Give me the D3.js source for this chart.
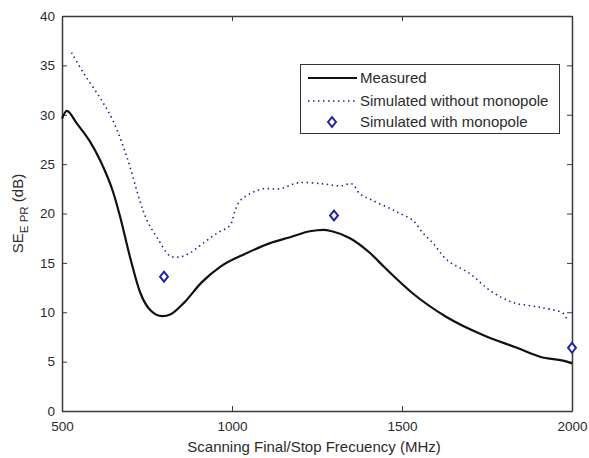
<!DOCTYPE html>
<html>
<head>
<meta charset="utf-8">
<script src="https://cdn.jsdelivr.net/npm/d3@7"></script>
<style>
  html, body { margin: 0; padding: 0; background: #fff; }
  svg { display: block; font-family: "Liberation Sans", Arial, sans-serif; }
</style>
</head>
<body>
<svg id="chart" width="589" height="458"></svg>
<script>
// Measured shielding effectiveness (dB) vs. scanning stop frequency (MHz)
const measuredFreq = [500, 514, 544, 582, 612, 650, 670, 700, 730, 760, 795, 820, 860, 910, 965, 1044, 1112, 1171, 1229, 1270, 1294, 1347, 1406, 1450, 1532, 1632, 1738, 1838, 1906, 1994, 2000];
const measuredSE   = [29.6, 30.4, 29.1, 27.3, 25.4, 22.2, 19.8, 15.6, 12.0, 10.2, 9.6, 9.8, 11.0, 13.0, 14.6, 16.0, 17.0, 17.6, 18.2, 18.35, 18.2, 17.5, 16.0, 14.5, 11.9, 9.5, 7.7, 6.4, 5.5, 4.9, 4.8];

// Simulation without monopole
const simFreq = [528, 562, 612, 650, 691, 729, 750, 779, 818, 847, 876, 915, 956, 994, 1009, 1024, 1053, 1091, 1141, 1194, 1268, 1318, 1353, 1376, 1415, 1465, 1494, 1532, 1562, 1591, 1632, 1700, 1759, 1826, 1906, 1974, 1985];
const simSE   = [36.3, 34.3, 31.7, 29.4, 25.7, 21.3, 19.3, 17.6, 15.7, 15.6, 16.0, 17.0, 18.0, 18.8, 20.3, 21.3, 22.0, 22.5, 22.5, 23.1, 23.0, 22.8, 23.0, 22.0, 21.3, 20.5, 20.0, 19.3, 18.0, 17.0, 15.3, 13.9, 12.2, 11.0, 10.5, 9.9, 9.3];

// Simulation with monopole (discrete points)
const monoFreq = [800, 1300, 2000];
const monoSE   = [13.6, 19.8, 6.4];

const xTicks = [500, 1000, 1500, 2000];
const yTicks = [0, 5, 10, 15, 20, 25, 30, 35, 40];
const legendLabels = ["Measured", "Simulated without monopole", "Simulated with monopole"];

const svg = d3.select("#chart");
const L = 62, R = 572, T = 16, B = 411;

const x = d3.scaleLinear().domain([500, 2000]).range([L, R]);
const y = d3.scaleLinear().domain([0, 40]).range([B, T]);

const axisColor = "#3a3a3a";
const textColor = "#2b2b2b";
const blue = "#23239a";

// Axes with inward ticks on all four sides
function styleAxis(g) {
  g.selectAll("path.domain").attr("stroke", axisColor).attr("stroke-width", 1.5);
  g.selectAll(".tick line").attr("stroke", axisColor).attr("stroke-width", 1);
  g.selectAll(".tick text").attr("fill", textColor).attr("font-size", 13.5)
    .attr("font-family", "'Liberation Sans', Arial, sans-serif");
}

svg.append("g").attr("transform", `translate(0,${B})`)
  .call(d3.axisBottom(x).tickValues(xTicks).tickFormat(d3.format("d")).tickSizeInner(-5).tickSizeOuter(0).tickPadding(10))
  .call(styleAxis);
svg.append("g").attr("transform", `translate(0,${T})`)
  .call(d3.axisTop(x).tickValues(xTicks).tickFormat("").tickSizeInner(-5).tickSizeOuter(0))
  .call(styleAxis);
svg.append("g").attr("transform", `translate(${L},0)`)
  .call(d3.axisLeft(y).tickValues(yTicks).tickFormat(d3.format("d")).tickSizeInner(-5).tickSizeOuter(0).tickPadding(7))
  .call(styleAxis);
svg.append("g").attr("transform", `translate(${R},0)`)
  .call(d3.axisRight(y).tickValues(yTicks).tickFormat("").tickSizeInner(-5).tickSizeOuter(0))
  .call(styleAxis);

// Series
const measured = measuredFreq.map((f, i) => [f, measuredSE[i]]);
const simulated = simFreq.map((f, i) => [f, simSE[i]]);
const smooth = d3.line().x(d => x(d[0])).y(d => y(d[1])).curve(d3.curveMonotoneX);
const dotted = d3.line().x(d => x(d[0])).y(d => y(d[1])).curve(d3.curveCatmullRom.alpha(0.5));

svg.append("path").datum(simulated).attr("d", dotted)
  .attr("fill", "none").attr("stroke", blue).attr("stroke-width", 1.6)
  .attr("stroke-dasharray", "1.5,3.5");

svg.append("path").datum(measured).attr("d", smooth)
  .attr("fill", "none").attr("stroke", "#111").attr("stroke-width", 2.2);

// Hollow diamond marker
const diamond = {
  draw(ctx, size) {
    const h = Math.sqrt(size) * 0.62, w = h * 0.8;
    ctx.moveTo(0, -h); ctx.lineTo(w, 0); ctx.lineTo(0, h); ctx.lineTo(-w, 0); ctx.closePath();
  }
};
const diamondPath = d3.symbol().type(diamond).size(64)();

svg.append("g").selectAll("path").data(monoFreq.map((f, i) => [f, monoSE[i]])).join("path")
  .attr("d", diamondPath)
  .attr("transform", d => `translate(${x(d[0])},${y(d[1])})`)
  .attr("fill", "#fff").attr("stroke", blue).attr("stroke-width", 2);

// Legend
const lg = svg.append("g");
lg.append("rect").attr("x", 300.5).attr("y", 64.5).attr("width", 259).attr("height", 69)
  .attr("fill", "#fff").attr("stroke", "#333").attr("stroke-width", 1);
const rowY = [78, 101, 122];
lg.append("line").attr("x1", 308).attr("x2", 357).attr("y1", rowY[0]).attr("y2", rowY[0])
  .attr("stroke", "#111").attr("stroke-width", 2.2);
lg.append("line").attr("x1", 308).attr("x2", 357).attr("y1", rowY[1]).attr("y2", rowY[1])
  .attr("stroke", blue).attr("stroke-width", 1.6).attr("stroke-dasharray", "1.5,3.5");
lg.append("path").attr("d", diamondPath).attr("transform", `translate(332,${rowY[2]})`)
  .attr("fill", "#fff").attr("stroke", blue).attr("stroke-width", 2);
lg.selectAll("text").data(legendLabels).join("text")
  .attr("x", 360).attr("y", (d, i) => rowY[i]).attr("dy", "0.36em")
  .attr("font-size", 15).attr("fill", textColor).text(d => d);

// Axis titles
svg.append("text").attr("x", 314).attr("y", 452).attr("text-anchor", "middle")
  .attr("font-size", 15).attr("fill", textColor)
  .text("Scanning Final/Stop Frecuency (MHz)");

const yt = svg.append("text").attr("transform", `translate(23,${(T + B) / 2}) rotate(-90)`)
  .attr("text-anchor", "middle").attr("font-size", 15).attr("fill", textColor);
yt.append("tspan").text("SE");
yt.append("tspan").attr("dy", 5).attr("font-size", 11.5).text("E PR");
yt.append("tspan").attr("dy", -5).text(" (dB)");
</script>
</body>
</html>
